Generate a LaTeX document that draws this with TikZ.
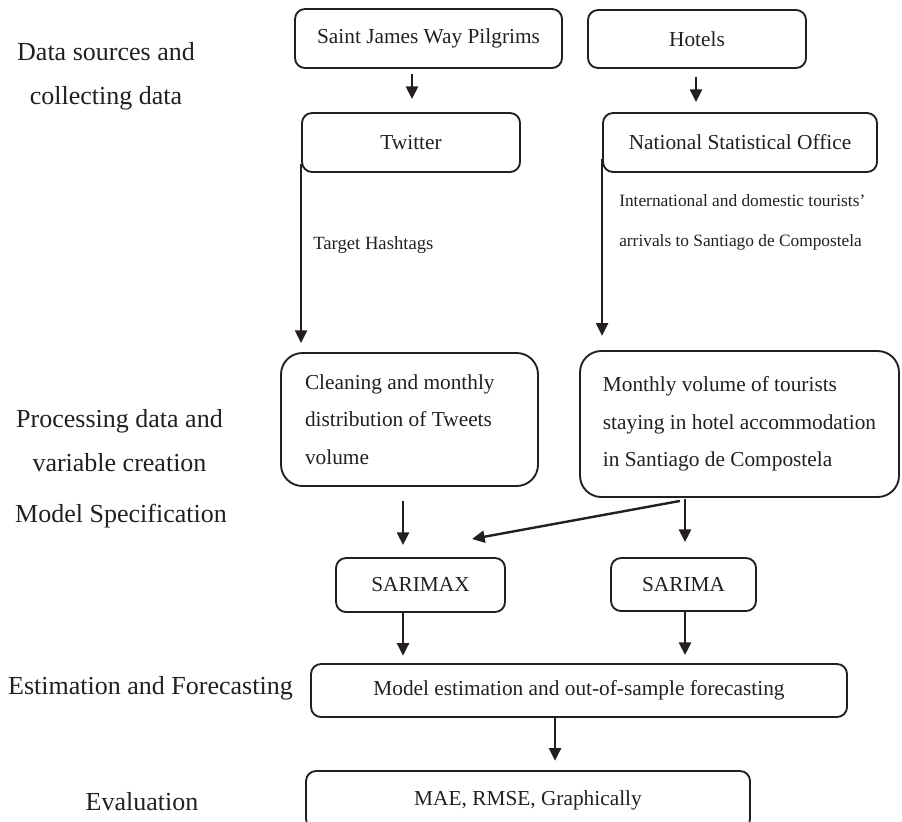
\documentclass[tikz,border=0pt]{standalone}
\usepackage{fontspec}
\setmainfont{Liberation Serif}
\usetikzlibrary{arrows.meta,calc}
\definecolor{ink}{HTML}{231F20}
\begin{document}
\begin{tikzpicture}[x=0.75pt,y=-0.75pt,
  box/.style={draw=ink, line width=1.4pt, rounded corners=7.5pt, text=ink, font=\fontsize{16}{28}\selectfont, inner sep=0pt},
  bigbox/.style={box, rounded corners=16pt, align=flush left},
  lbl/.style={text=ink, font=\fontsize{19.5}{33}\selectfont, align=center, inner sep=0pt},
  note/.style={text=ink, font=\fontsize{13}{30}\selectfont, align=left, inner sep=0pt},
  arr/.style={draw=ink, line width=1.8pt, -{Triangle[length=9.5pt,width=9pt]}}
]
\clip (0,0) rectangle (902,821);
% boxes
\node[box, minimum width=200.25pt, minimum height=44.25pt] (b1) at (428.5,38.5) {Saint James Way Pilgrims};
\node[box, minimum width=163.5pt, minimum height=43.5pt] (b2) at (697,39) {Hotels};
\node[box, minimum width=163.5pt, minimum height=44.25pt] (b3) at (411,142.5) {Twitter};
\node[box, minimum width=205.5pt, minimum height=44.25pt] (b4) at (740,142.5) {National Statistical Office};
\node[bigbox, text width=156.75pt, inner xsep=18pt, minimum height=99.75pt] (b5) at (409.5,419.5) {Cleaning and monthly\\distribution of Tweets\\volume};
\node[bigbox, minimum width=239.25pt, minimum height=109.5pt] (b6) at (739.5,424) {Monthly volume of tourists\\staying in hotel accommodation\\in Santiago de Compostela};
\node[box, minimum width=126.75pt, minimum height=40.5pt] (b7) at (420.5,585) {SARIMAX};
\node[box, minimum width=108.75pt, minimum height=39.75pt] (b8) at (683.5,584.5) {SARIMA};
\node[box, minimum width=402pt, minimum height=39.75pt] (b9) at (579,690.5) {Model estimation and out-of-sample forecasting};
\node[box, minimum width=333pt, minimum height=43.5pt] (b10) at (528,800) {MAE, RMSE, Graphically};
% notes
\node[note, font=\fontsize{14}{30}\selectfont, anchor=west] (n1) at (313,245) {Target Hashtags};
\node[note, anchor=west] (n2) at (619,222) {International and domestic tourists’\\arrivals to Santiago de Compostela};
% left labels
\node[lbl] (l1) at (106,76.5) {Data sources and\\collecting data};
\node[lbl] (l2) at (119.5,440.5) {Processing data and\\variable creation};
\node[lbl] (l3) at (121,516) {Model Specification};
\node[lbl] (l4) at (150.5,688) {Estimation and Forecasting};
\node[lbl] (l5) at (142,802) {Evaluation};
% connectors
\coordinate (x1) at (412,0);
\coordinate (x2) at (696,0);
\coordinate (x5) at (403,0);
\coordinate (x6) at (685,0);
\coordinate (x10) at (555,0);
\coordinate (d7) at (472,539);
\draw[arr, shorten <=3.5pt, shorten >=9.75pt] (b1.south -| x1) -- (b3.north -| x1);
\draw[arr, shorten <=6pt, shorten >=7.5pt] (b2.south -| x2) -- (b4.north -| x2);
\draw[arr, shorten >=6.75pt] ([yshift=6.75pt]b3.south west) coordinate (s3) -- (s3 |- b5.north);
\draw[arr, shorten >=10.7pt] ([yshift=10.5pt]b4.south west) coordinate (s4) -- (s4 |- b6.north);
\draw[arr, shorten <=10.5pt, shorten >=9pt] (b5.south -| x5) -- (b7.north -| x5);
\draw[arr, shorten <=0.75pt, shorten >=11.25pt] (b6.south -| x6) -- (b8.north -| x6);
\draw[arr] ([xshift=-44.6pt, yshift=-2.25pt]b6.south) -- (d7);
\draw[arr, shorten >=5.5pt] (b7.south -| x5) -- (b9.north -| x5);
\draw[arr, shorten >=6pt] (b8.south -| x6) -- (b9.north -| x6);
\draw[arr, shorten >=7pt] (b9.south -| x10) -- (b10.north -| x10);
\end{tikzpicture}
\end{document}
